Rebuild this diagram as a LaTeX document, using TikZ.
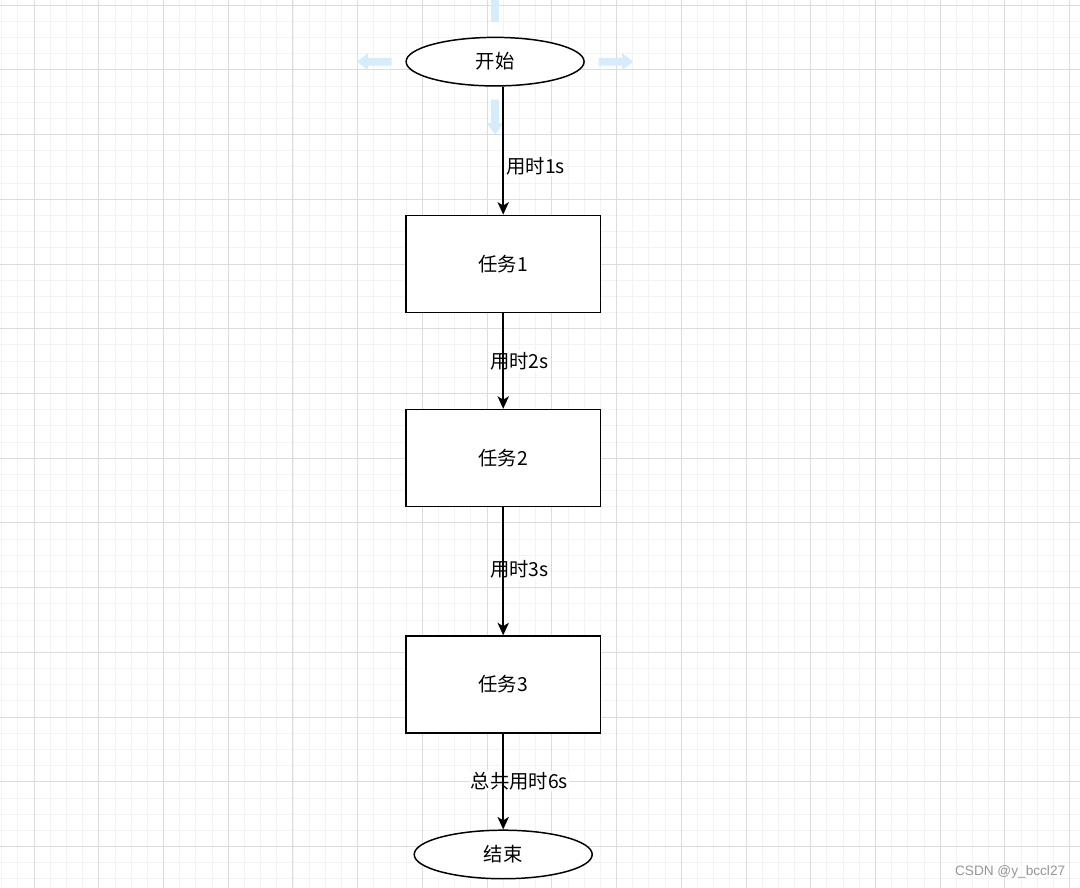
\documentclass[tikz,border=0pt]{standalone}
\usepackage{fontspec}
\setmainfont{Noto Sans CJK SC}
\newfontfamily\markfont{Liberation Sans}
\usetikzlibrary{shapes.geometric,arrows.meta}

\definecolor{hoverblue}{RGB}{214,236,250}
\definecolor{minorline}{RGB}{243,243,243}
\definecolor{majorline}{RGB}{220,220,220}
\definecolor{markgray}{RGB}{150,150,150}

\tikzset{
  terminal/.style={ellipse,draw=black,line width=1.3pt,fill=white,minimum width=5.5cm,minimum height=1.5cm,inner sep=0pt,font=\fontsize{17}{20}\selectfont},
  taskbox/.style={rectangle,draw=black,line width=1.3pt,fill=white,minimum width=6cm,minimum height=3cm,font=\fontsize{17}{20}\selectfont},
  timelabel/.style={fill=white,inner sep=1pt,font=\fontsize{17}{20}\selectfont},
  flow/.style={line width=1.3pt,-{Stealth[length=11pt,width=10pt,inset=3pt]}},
  hoverarrow/.pic={\fill[hoverblue] (0,-0.24) -- (1.45,-0.24) -- (1.45,-0.52) -- (2.15,0) -- (1.45,0.52) -- (1.45,0.24) -- (0,0.24) -- cycle;}
}

\begin{document}
\begin{tikzpicture}[x=0.5cm,y=-0.5cm]
\useasboundingbox (-2.1,-0.31) rectangle (64.65,54.57);
\fill[white] (-2.1,-0.31) rectangle (64.65,54.57);

%--------------------------------------------------- background grid
\foreach \gx in {-2,...,64} \draw[minorline,line width=0.6pt] (\gx,-0.31) -- (\gx,54.57);
\foreach \gy in {0,...,54} \draw[minorline,line width=0.6pt] (-2.1,\gy) -- (64.65,\gy);
\foreach \gx in {0,4,...,64} \draw[majorline,line width=0.7pt] (\gx,-0.31) -- (\gx,54.57);
\foreach \gy in {0,4,...,52} \draw[majorline,line width=0.7pt] (-2.1,\gy) -- (64.65,\gy);

%--------------------------------------------------- hover arrows
\pic at (28.5,1.05) [rotate=90] {hoverarrow};
\pic at (28.5,5.85) [rotate=-90] {hoverarrow};
\pic at (22.1,3.5) [rotate=180] {hoverarrow};
\pic at (34.9,3.5) {hoverarrow};

%--------------------------------------------------- labels
\node[timelabel] (lbl1) at (31,9.95) {用时1s};
\node[timelabel] (lbl2) at (30,22) {用时2s};
\node[timelabel] (lbl3) at (30,34.9) {用时3s};
\node[timelabel] (lbl6) at (30,47.95) {总共用时6s};

%--------------------------------------------------- nodes
\node[terminal] (start) at (28.5,3.5) {开始};
\node[taskbox] (task1) at (29,16) {任务1};
\node[taskbox] (task2) at (29,28) {任务2};
\node[taskbox] (task3) at (29,42) {任务3};
\node[terminal] (stop) at (29,52.5) {结束};

%--------------------------------------------------- connectors
\draw[flow] (start.south -| task1.north) -- (task1.north);
\draw[flow] (task1) -- (task2);
\draw[flow] (task2) -- (task3);
\draw[flow] (task3) -- (stop);

\node[anchor=east,text=markgray,inner sep=0pt] (mark) at (63.75,53.58) {\markfont\fontsize{12}{14}\selectfont CSDN @y\_bccl27};
\end{tikzpicture}
\end{document}
